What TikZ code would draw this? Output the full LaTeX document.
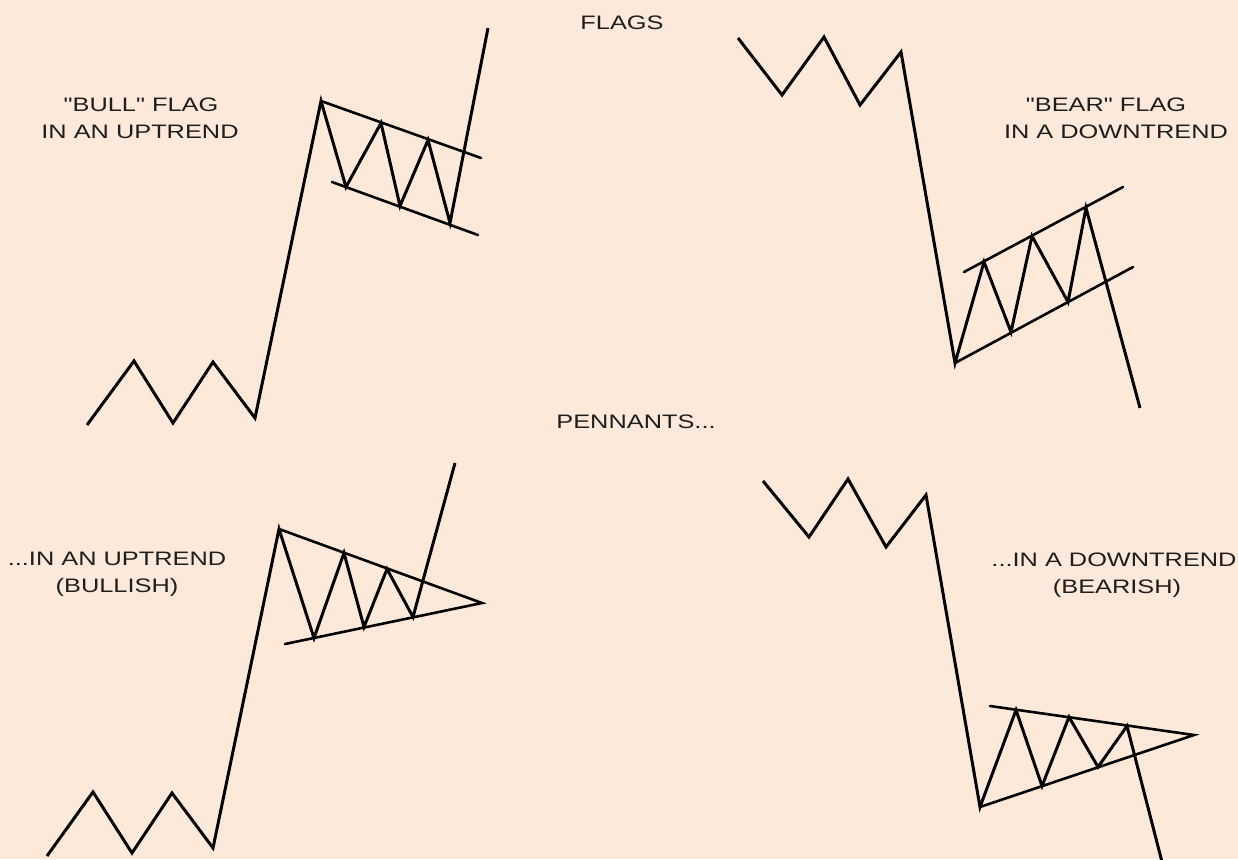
\documentclass[tikz,border=0pt]{standalone}
\usepackage{fontspec}
\newfontfamily\lblfont[FakeStretch=1.3]{Liberation Sans}
\definecolor{bgpeach}{RGB}{252,233,218}
\definecolor{inkdark}{RGB}{30,30,30}
\begin{document}
\begin{tikzpicture}[x=1pt,y=-1pt,
  price/.style={line width=3pt,line join=miter,miter limit=6,draw=black},
  chan/.style={line width=2.6pt,draw=black,line cap=round},
  lbl/.style={anchor=base,inner sep=0pt,text=inkdark,font=\lblfont\fontsize{19.5}{23}\selectfont}]
\fill[bgpeach] (0,0) rectangle (1238,859);
\useasboundingbox (0,0) rectangle (1238,859);

% titles
\node[lbl] (flags) at (622,30) {FLAGS};
\node[lbl] (pennants) at (636,428) {PENNANTS...};
\node[lbl] (bull1) at (141,111) {"BULL" FLAG};
\node[lbl] (bull2) at (140,138) {IN AN UPTREND};
\node[lbl] (bear1) at (1106,111) {"BEAR" FLAG};
\node[lbl] (bear2) at (1116,138) {IN A DOWNTREND};
\node[lbl] (upt1) at (117,565) {...IN AN UPTREND};
\node[lbl] (upt2) at (117,592) {(BULLISH)};
\node[lbl] (dnt1) at (1114,566) {...IN A DOWNTREND};
\node[lbl] (dnt2) at (1117,593) {(BEARISH)};

% bull flag
\coordinate (a1) at (87,425);
\coordinate (a2) at (134,361);
\coordinate (a3) at (173,423);
\coordinate (a4) at (213,362);
\coordinate (a5) at (255,418);
\coordinate (a6) at (321,101);
\coordinate (a7) at (346,187);
\coordinate (a8) at (381,123);
\coordinate (a9) at (400,206);
\coordinate (a10) at (428,140);
\coordinate (a11) at (450,223);
\coordinate (a12) at (488,28);
\coordinate (au) at (481,158);
\coordinate (al1) at (332,182);
\coordinate (al2) at (478,235);
\draw[chan] (a6) -- (au);
\draw[chan] (al1) -- (al2);
\draw[price] (a1) -- (a2) -- (a3) -- (a4) -- (a5) -- (a6) -- (a7) -- (a8) -- (a9) -- (a10) -- (a11) -- (a12);

% bear flag
\coordinate (b1) at (738,38);
\coordinate (b2) at (782,95);
\coordinate (b3) at (824,37);
\coordinate (b4) at (860,105);
\coordinate (b5) at (901,52);
\coordinate (b6) at (955,363);
\coordinate (b7) at (984,262);
\coordinate (b8) at (1011,332);
\coordinate (b9) at (1032,236);
\coordinate (b10) at (1068,302);
\coordinate (b11) at (1086,208);
\coordinate (b12) at (1140,408);
\coordinate (bu1) at (964,272);
\coordinate (bu2) at (1123,187);
\coordinate (bl) at (1133,267);
\draw[chan] (bu1) -- (bu2);
\draw[chan] (b6) -- (bl);
\draw[price] (b1) -- (b2) -- (b3) -- (b4) -- (b5) -- (b6) -- (b7) -- (b8) -- (b9) -- (b10) -- (b11) -- (b12);

% bull pennant
\coordinate (c1) at (47,856);
\coordinate (c2) at (93,792);
\coordinate (c3) at (132,853);
\coordinate (c4) at (172,793);
\coordinate (c5) at (213,848);
\coordinate (c6) at (279,529);
\coordinate (c7) at (314,638);
\coordinate (c8) at (344,553);
\coordinate (c9) at (364,627);
\coordinate (c10) at (387,569);
\coordinate (c11) at (413,617);
\coordinate (c12) at (455,463);
\coordinate (capex) at (482,603);
\coordinate (cl) at (285,644);
\draw[chan] (c6) -- (capex) -- (cl);
\draw[price] (c1) -- (c2) -- (c3) -- (c4) -- (c5) -- (c6) -- (c7) -- (c8) -- (c9) -- (c10) -- (c11) -- (c12);

% bear pennant
\coordinate (d1) at (763,481);
\coordinate (d2) at (809,537);
\coordinate (d3) at (848,479);
\coordinate (d4) at (886,547);
\coordinate (d5) at (926,495);
\coordinate (d6) at (980,807);
\coordinate (d7) at (1016,710);
\coordinate (d8) at (1042,786);
\coordinate (d9) at (1069,717);
\coordinate (d10) at (1098,767);
\coordinate (d11) at (1127,726);
\coordinate (d12) at (1162,862);
\coordinate (dapex) at (1194,735);
\coordinate (du) at (990,706);
\draw[chan] (du) -- (dapex) -- (d6);
\draw[price] (d1) -- (d2) -- (d3) -- (d4) -- (d5) -- (d6) -- (d7) -- (d8) -- (d9) -- (d10) -- (d11) -- (d12);
\end{tikzpicture}
\end{document}
